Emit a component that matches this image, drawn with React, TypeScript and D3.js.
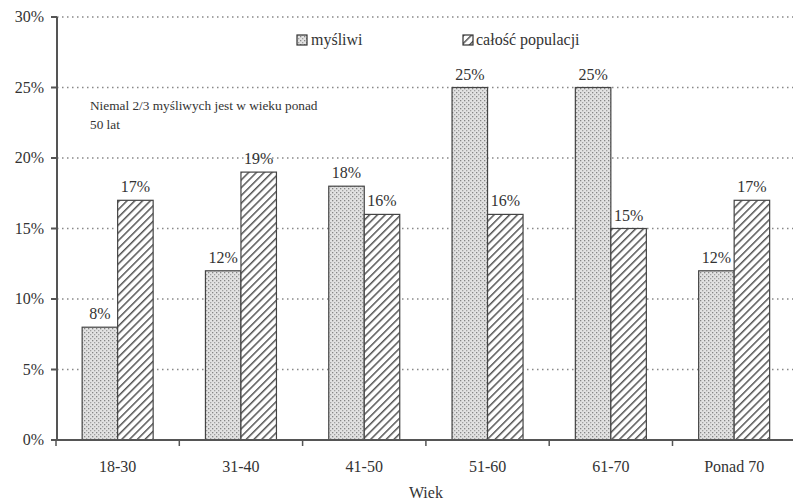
import React from "react";
import * as d3 from "d3";

const categories = ["18-30", "31-40", "41-50", "51-60", "61-70", "Ponad 70"];
const mysliwi = [8, 12, 18, 25, 25, 12];
const calosc = [17, 19, 16, 16, 15, 17];
const yTicks = [0, 5, 10, 15, 20, 25, 30];
const seriesNames = ["myśliwi", "całość populacji"];

const W = 793;
const H = 503;
const FONT = "Liberation Serif, Times New Roman, DejaVu Serif, serif";
const TXT = "#333";

export default function App() {
  const x = d3.scaleBand<string>().domain(categories).range([56, 56 + 6 * 123.3]).padding(0);
  const y = d3.scaleLinear().domain([0, 30]).range([440, 17]);
  const bw = x.bandwidth();
  const barW = 35.5;
  const off = (bw - 2 * barW) / 2;
  const ts = { fontFamily: FONT } as React.CSSProperties;

  return (
    <svg width={W} height={H} style={{ position: "absolute", left: 0, top: 0, background: "#fff", fontFamily: FONT }}>
      <defs>
        <pattern id="dots" width="4" height="4" patternUnits="userSpaceOnUse">
          <rect width="4" height="4" fill="#e2e2e2" />
          <rect x="0" y="0" width="1.3" height="1.3" fill="#858585" />
          <rect x="2" y="2" width="1.3" height="1.3" fill="#a0a0a0" />
        </pattern>
        <pattern id="hatch" width="5.5" height="5.5" patternUnits="userSpaceOnUse" patternTransform="rotate(45)">
          <rect width="5.5" height="5.5" fill="#fff" />
          <rect x="0" y="0" width="1.5" height="5.5" fill="#555" />
        </pattern>
      </defs>

      {/* gridlines */}
      {yTicks.filter((t) => t > 0).map((t) => (
        <line key={"g" + t} x1={57} x2={W} y1={y(t)} y2={y(t)} stroke="#888" strokeWidth={1.3} strokeDasharray="1.5,3.5" />
      ))}

      {/* bars */}
      {categories.map((c, i) => {
        const x0 = (x(c) as number) + off;
        return (
          <g key={c}>
            <rect x={x0} y={y(mysliwi[i])} width={barW} height={y(0) - y(mysliwi[i])} fill="url(#dots)" stroke="#444" strokeWidth={1.2} />
            <rect x={x0 + barW} y={y(calosc[i])} width={barW} height={y(0) - y(calosc[i])} fill="url(#hatch)" stroke="#444" strokeWidth={1.2} />
            <text style={ts} x={x0 + barW / 2} y={y(mysliwi[i]) - 8} textAnchor="middle" fontSize={16} fill={TXT}>{mysliwi[i]}%</text>
            <text style={ts} x={x0 + barW * 1.5} y={y(calosc[i]) - 8} textAnchor="middle" fontSize={16} fill={TXT}>{calosc[i]}%</text>
          </g>
        );
      })}

      {/* y axis */}
      <line x1={57} x2={57} y1={y(30)} y2={y(0)} stroke="#555" strokeWidth={2} />
      {yTicks.map((t) => (
        <g key={"y" + t}>
          <line x1={51} x2={57} y1={y(t)} y2={y(t)} stroke="#555" strokeWidth={2} />
          <text style={ts} x={44} y={y(t) + 5} textAnchor="end" fontSize={16} fill={TXT}>{t}%</text>
        </g>
      ))}

      {/* x axis */}
      <line x1={51} x2={W} y1={y(0)} y2={y(0)} stroke="#555" strokeWidth={2} />
      {categories.map((c) => (
        <line key={"t" + c} x1={x(c) as number} x2={x(c) as number} y1={y(0)} y2={y(0) + 6} stroke="#555" strokeWidth={1.5} />
      ))}
      {categories.map((c) => (
        <text style={ts} key={"l" + c} x={(x(c) as number) + bw / 2} y={472} textAnchor="middle" fontSize={16} fill={TXT}>{c}</text>
      ))}
      <text style={ts} x={(x(categories[2]) as number) + bw} y={498} textAnchor="middle" fontSize={16} fill={TXT}>Wiek</text>

      {/* legend */}
      <rect x={297} y={35} width={10} height={10} fill="url(#dots)" stroke="#333" strokeWidth={1.2} />
      <text style={ts} x={311} y={45} fontSize={16} fill={TXT}>{seriesNames[0]}</text>
      <rect x={463} y={35} width={10} height={10} fill="url(#hatch)" stroke="#333" strokeWidth={1.2} />
      <text style={ts} x={476} y={45} fontSize={16} fill={TXT}>{seriesNames[1]}</text>

      {/* annotation */}
      <text style={ts} x={90} y={110} fontSize={13.3} fill={TXT}>Niemal 2/3 myśliwych jest w wieku ponad</text>
      <text style={ts} x={90} y={129} fontSize={13.3} fill={TXT}>50 lat</text>
    </svg>
  );
}
